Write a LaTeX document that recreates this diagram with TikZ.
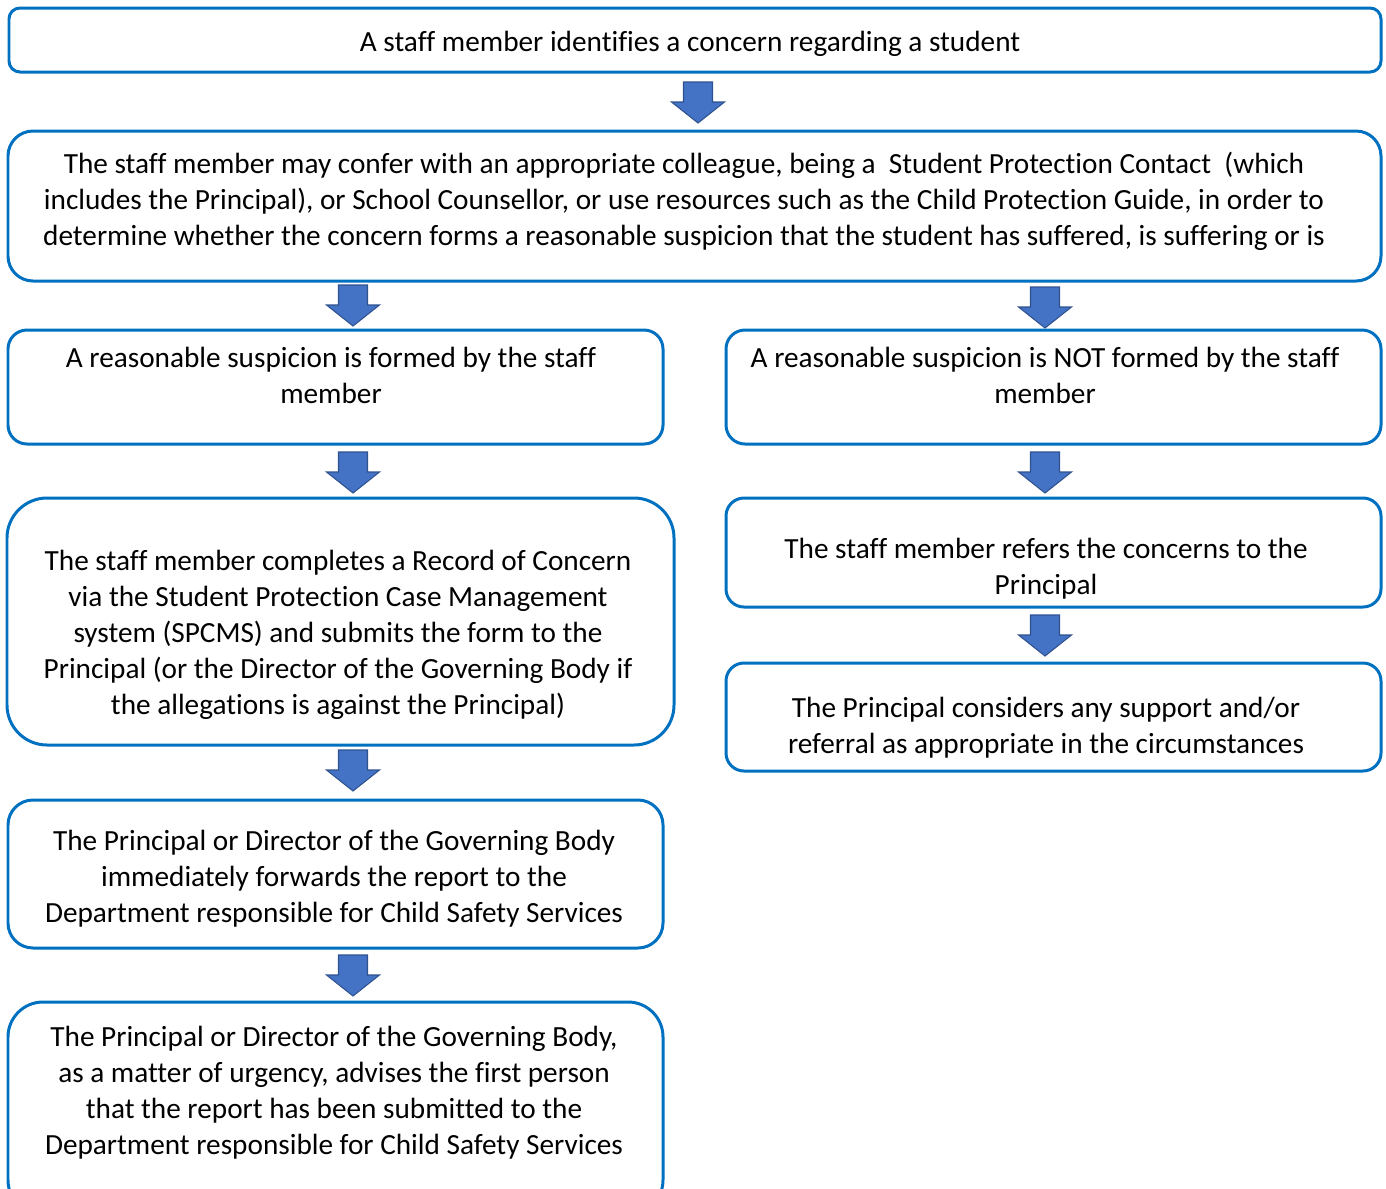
\documentclass[tikz,border=0pt]{standalone}
\usepackage{fontspec}
\setmainfont{Carlito}[Ligatures={NoCommon}]
\usetikzlibrary{fit}
\definecolor{boxblue}{HTML}{0070C0}
\definecolor{arrfill}{HTML}{4472C4}
\definecolor{arrline}{HTML}{2F528F}
\tikzset{
	box/.style={draw=boxblue,line width=1.7pt,inner sep=0pt},
	txt/.style={align=center,inner sep=0pt,font=\fontsize{16.65}{20.5}\selectfont},
	arrowfill/.style={fill=arrfill,draw=arrline,line width=0.6pt},
	pics/downarr/.style={code={
		\filldraw[arrowfill] (-14.5,0) -- (14.5,0) -- (14.5,20) -- (26.5,20) -- (0,41) -- (-26.5,20) -- (-14.5,20) -- cycle;
	}}
}
\begin{document}
\begin{tikzpicture}[x=0.02cm,y=-0.02cm]
	\clip (0,0) rectangle (1386,1188);
	% boxes
	\node[box,rounded corners=0.22cm,fit={(9,8) (1381,72)}] (b1) {};
	\node[box,rounded corners=0.5cm,fit={(8,131) (1381,281)}] (b2) {};
	\node[box,rounded corners=0.38cm,fit={(8,330) (663,444)}] (b3l) {};
	\node[box,rounded corners=0.38cm,fit={(726,330) (1381,444)}] (b3r) {};
	\node[box,rounded corners=0.8cm,fit={(7,498) (674,745)}] (b4l) {};
	\node[box,rounded corners=0.36cm,fit={(726,498) (1381,607)}] (b4r) {};
	\node[box,rounded corners=0.36cm,fit={(726,663) (1381,771)}] (b5r) {};
	\node[box,rounded corners=0.5cm,fit={(8,800) (663,948)}] (b5l) {};
	\node[box,rounded corners=0.7cm,fit={(8,1002) (663,1215)}] (b6l) {};
	% texts
	\node[txt] (t1) at (690,44) {A staff member identifies a concern regarding a student};
	\node[txt] (t2) at (684,201) {The staff member may confer with an appropriate colleague, being a\ \ Student Protection Contact\ \ (which\\
		includes the Principal), or School Counsellor, or use resources such as the Child Protection Guide, in order to\\
		determine whether the concern forms a reasonable suspicion that the student has suffered, is suffering or is};
	\node[txt] (t3l) at (331,375) {A reasonable suspicion is formed by the staff\\member};
	\node[txt] (t3r) at (1045,375) {A reasonable suspicion is NOT formed by the staff\\member};
	\node[txt] (t4l) at (338,635) {The staff member completes a Record of Concern\\via the Student Protection Case Management\\system (SPCMS) and submits the form to the\\Principal (or the Director of the Governing Body if\\the allegations is against the Principal)};
	\node[txt] (t4r) at (1046,569) {The staff member refers the concerns to the\\Principal};
	\node[txt] (t5r) at (1046,727.5) {The Principal considers any support and/or\\referral as appropriate in the circumstances};
	\node[txt] (t5l) at (334,878.5) {The Principal or Director of the Governing Body\\immediately forwards the report to the\\Department responsible for Child Safety Services};
	\node[txt] (t6l) at (334,1092.5) {The Principal or Director of the Governing Body,\\as a matter of urgency, advises the first person\\that the report has been submitted to the\\Department responsible for Child Safety Services};
	% arrows
	\pic at (698,82) {downarr};
	\pic at (353,285) {downarr};
	\pic at (1045,287) {downarr};
	\pic at (353,452) {downarr};
	\pic at (1045,452) {downarr};
	\pic at (1045,615) {downarr};
	\pic at (353,750) {downarr};
	\pic at (353,955) {downarr};
\end{tikzpicture}
\end{document}
